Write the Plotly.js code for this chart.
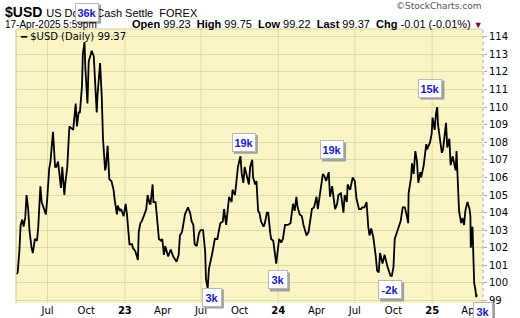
<!DOCTYPE html>
<html><head><meta charset="utf-8">
<script src="https://cdn.plot.ly/plotly-3.0.1.min.js"></script>
<style>html,body{margin:0;padding:0;background:#fff;}#chart{width:520px;height:318px;}</style>
</head><body><div id="chart"></div>
<script>
// ---- data ----
const dates = [
"2022-04-18","2022-04-21","2022-04-25","2022-04-28","2022-05-02","2022-05-05","2022-05-09","2022-05-12","2022-05-16","2022-05-19","2022-05-24","2022-05-27",
"2022-06-01","2022-06-06","2022-06-09","2022-06-14","2022-06-17","2022-06-22","2022-06-27","2022-06-30","2022-07-05","2022-07-08","2022-07-12","2022-07-14",
"2022-07-19","2022-07-22","2022-07-26","2022-08-02","2022-08-05","2022-08-10","2022-08-12","2022-08-17","2022-08-22","2022-08-26","2022-08-31","2022-09-06",
"2022-09-09","2022-09-13","2022-09-16","2022-09-21","2022-09-23","2022-09-27","2022-09-29","2022-10-04","2022-10-07","2022-10-12","2022-10-14","2022-10-19",
"2022-10-21","2022-10-26","2022-10-28","2022-11-03","2022-11-07","2022-11-10","2022-11-15","2022-11-17","2022-11-21","2022-11-25","2022-11-30","2022-12-05",
"2022-12-08","2022-12-13","2022-12-15","2022-12-20","2022-12-23","2022-12-29",
"2023-01-03","2023-01-06","2023-01-12","2023-01-18","2023-01-20","2023-01-26","2023-02-01","2023-02-03","2023-02-07","2023-02-10","2023-02-15","2023-02-21",
"2023-02-24","2023-03-01","2023-03-03","2023-03-08","2023-03-10","2023-03-15","2023-03-20","2023-03-23","2023-03-28","2023-03-31","2023-04-04","2023-04-07",
"2023-04-14","2023-04-20","2023-04-26","2023-05-04","2023-05-09","2023-05-12","2023-05-17","2023-05-24","2023-05-31","2023-06-05","2023-06-09","2023-06-13",
"2023-06-16","2023-06-21","2023-06-26","2023-06-30","2023-07-06","2023-07-11","2023-07-13","2023-07-17","2023-07-20","2023-07-25","2023-07-28","2023-08-03",
"2023-08-09","2023-08-16","2023-08-22","2023-08-25","2023-08-30","2023-09-06","2023-09-12","2023-09-14","2023-09-20","2023-09-27","2023-10-03","2023-10-06",
"2023-10-10","2023-10-13","2023-10-17","2023-10-23","2023-10-26","2023-10-31","2023-11-02","2023-11-07","2023-11-10","2023-11-14","2023-11-17","2023-11-21",
"2023-11-27","2023-11-30","2023-12-05","2023-12-08","2023-12-13","2023-12-15","2023-12-20","2023-12-27","2023-12-29",
"2024-01-03","2024-01-08","2024-01-12","2024-01-17","2024-01-19","2024-01-24","2024-01-30","2024-02-02","2024-02-05","2024-02-09","2024-02-13","2024-02-16",
"2024-02-21","2024-02-26","2024-03-01","2024-03-07","2024-03-08","2024-03-13","2024-03-19","2024-03-21","2024-03-26","2024-04-01","2024-04-04","2024-04-10",
"2024-04-16","2024-04-19","2024-04-24","2024-04-30","2024-05-03","2024-05-08","2024-05-15","2024-05-20","2024-05-23","2024-05-29","2024-06-04","2024-06-07",
"2024-06-12","2024-06-14","2024-06-20","2024-06-26","2024-07-01","2024-07-05","2024-07-11","2024-07-16","2024-07-19","2024-07-24","2024-07-29","2024-08-02",
"2024-08-05","2024-08-09","2024-08-14","2024-08-20","2024-08-23","2024-08-27","2024-08-30","2024-09-05","2024-09-10","2024-09-17","2024-09-24","2024-09-27",
"2024-10-01","2024-10-04","2024-10-10","2024-10-15","2024-10-18","2024-10-23","2024-10-28","2024-11-01","2024-11-05","2024-11-06","2024-11-12","2024-11-14",
"2024-11-18","2024-11-22","2024-11-26","2024-11-29","2024-12-04","2024-12-06","2024-12-12","2024-12-18","2024-12-20","2024-12-27","2024-12-31",
"2025-01-02","2025-01-07","2025-01-10","2025-01-13","2025-01-15","2025-01-20","2025-01-24","2025-01-27","2025-01-31","2025-02-03","2025-02-06","2025-02-11",
"2025-02-14","2025-02-19","2025-02-24","2025-02-26","2025-02-28","2025-03-04","2025-03-06","2025-03-11","2025-03-14","2025-03-18","2025-03-21","2025-03-26",
"2025-03-31","2025-04-02","2025-04-03","2025-04-07","2025-04-10","2025-04-11","2025-04-14","2025-04-16","2025-04-17"
];
const usd = [
100.5,100.6,101.8,103.3,103.6,103.2,103.7,105.0,104.2,103.0,102.0,101.7,
102.5,102.4,103.2,105.5,104.6,104.3,103.9,104.7,106.5,106.9,108.1,108.6,
106.6,106.6,106.9,105.4,106.6,105.0,105.6,106.6,108.9,108.8,108.7,110.2,
108.9,109.7,109.7,111.2,113.0,113.7,112.2,110.2,112.6,113.0,113.2,112.9,
111.9,109.7,110.7,112.5,110.6,108.2,106.4,106.6,107.8,105.9,105.8,105.3,
104.7,103.9,104.4,104.1,104.2,103.8,
104.5,103.9,102.2,102.2,102.0,101.8,101.3,102.9,103.4,103.5,103.8,104.2,
105.0,104.5,104.5,105.6,104.6,104.6,103.3,102.5,102.4,102.5,101.6,102.1,
101.5,101.9,101.5,101.2,101.6,102.7,102.9,103.9,104.3,104.0,103.5,103.3,
102.2,102.1,102.8,103.0,103.0,101.8,100.2,99.7,100.8,101.3,101.7,102.5,
102.5,103.4,103.5,104.2,103.3,104.9,104.6,105.3,105.0,106.6,107.2,106.2,
105.7,106.6,106.2,105.6,106.6,107.0,106.0,105.6,105.8,104.1,104.0,103.5,
103.2,103.4,104.0,104.0,102.8,102.5,102.4,101.1,101.5,
102.5,102.3,102.5,103.3,103.3,103.3,103.4,104.0,104.5,104.1,104.9,104.3,
103.9,103.8,103.3,102.8,102.7,102.9,103.8,104.2,104.3,104.9,104.2,105.2,
106.2,106.1,105.8,106.3,104.9,105.5,104.2,104.5,105.0,105.1,104.0,105.0,
104.6,105.6,105.3,106.0,105.8,104.8,104.2,104.2,104.3,104.3,104.6,103.2,
102.7,103.1,102.6,101.5,100.7,100.6,101.7,101.1,101.6,100.9,100.4,100.4,
100.9,102.5,102.9,103.2,103.5,104.3,104.3,103.9,103.4,105.1,106.0,106.8,
106.2,107.5,106.9,105.7,106.3,106.0,106.7,107.9,107.6,108.0,108.5,
109.4,108.7,109.6,110.0,109.0,108.0,107.4,107.6,108.4,109.1,107.7,108.2,
106.7,107.2,106.6,106.4,107.5,105.6,104.1,103.4,103.7,103.3,104.1,104.6,
104.2,103.8,102.0,103.2,100.8,100.0,99.6,99.2,99.37
];
const tickDates = ["2022-07-01","2022-10-01","2023-01-01","2023-04-01","2023-07-01","2023-10-01","2024-01-01","2024-04-01","2024-07-01","2024-10-01","2025-01-01","2025-04-01"];
const tickLabels = ["Jul","Oct","<b>23</b>","Apr","Jul","Oct","<b>24</b>","Apr","Jul","Oct","<b>25</b>","Apr"];
const gridDates = ["2022-07-01","2023-01-01","2023-07-01","2024-01-01","2024-07-01","2025-01-01"];
const noteText = ["36k","19k","3k","3k","19k","-2k","15k","3k"];
const noteDate = ["2022-10-03","2023-10-11","2023-07-27","2023-12-31","2024-05-08","2024-09-23","2024-12-28","2025-05-02"];
const noteY = [115.4,108.0,99.2,100.17,107.56,99.6,111.08,98.4];

// ---- layout helpers ----
const W = 520, H = 318, L = 16, R = 37, T = 29, B = 15;
const pw = W - L - R, ph = H - T - B;
const px = x => (x - L) / pw;
const py = y => 1 - (y - T) / ph;
const xr = ['2022-04-17','2025-05-02'], yr = [98.86,114.44];
const dx = d => (Date.parse(d) - Date.parse(xr[0])) / (Date.parse(xr[1]) - Date.parse(xr[0]));
const dy = v => (v - yr[0]) / (yr[1] - yr[0]);
const bg = '#F9F5C6', grid = '#E0DAA2';

const shapes = gridDates.map(d => ({type:'line', xref:'x', yref:'paper', x0:d, x1:d, y0:0, y1:1,
  line:{color:grid, width:1}, layer:'below'}));
shapes.push({type:'line', xref:'paper', yref:'paper', x0:0, x1:0, y0:0, y1:1, line:{color:'#C9C39A', width:1}});
shapes.push({type:'line', xref:'paper', yref:'paper', x0:0, x1:1, y0:1, y1:1, line:{color:'#D6D0A4', width:1}});
shapes.push({type:'line', xref:'paper', yref:'paper', x0:1, x1:1, y0:0, y1:1, line:{color:'#A8A8A8', width:1, dash:'dot'}});

const anns = [];
const F = 'Liberation Sans, Arial, sans-serif';
// title lines
anns.push({xref:'paper', yref:'paper', x:px(3), y:py(12), xanchor:'left', yanchor:'middle', showarrow:false,
  text:'<b>$USD</b> <span style="font-size:11px">US Dollar Cash Settle  FOREX</span>', font:{family:F, size:14, color:'#000'}});
anns.push({xref:'paper', yref:'paper', x:px(3), y:py(24), xanchor:'left', yanchor:'middle', showarrow:false,
  text:'17-Apr-2025 5:59pm', font:{family:F, size:10, color:'#000'}});
anns.push({xref:'paper', yref:'paper', x:px(485), y:py(24), xanchor:'right', yanchor:'middle', showarrow:false,
  text:'<b>Open</b> 99.23  <b>High</b> 99.75  <b>Low</b> 99.22  <b>Last</b> 99.37  <b>Chg</b> -0.01 (-0.01%) <span style="color:#7A0A30;font-size:9px">▼</span>',
  font:{family:F, size:11, color:'#000'}});
anns.push({xref:'paper', yref:'paper', x:px(483), y:py(6), xanchor:'right', yanchor:'middle', showarrow:false,
  text:'©StockCharts.com', font:{family:'DejaVu Sans, sans-serif', size:9, color:'#555'}});
// legend
anns.push({xref:'paper', yref:'paper', x:px(18), y:py(36), xanchor:'left', yanchor:'middle', showarrow:false,
  text:'<b>━</b> $USD (Daily) 99.37', font:{family:'DejaVu Sans, sans-serif', size:10, color:'#000'}});
// count boxes with drop shadow (shadow as pixel-sized shapes)
noteText.forEach((t, i) => {
  const tw = t.length >= 3 ? 18 : 14, th = 13, pad = 2;
  const bw = tw + 2*pad + 2, bh = th + 2*pad + 2;
  const ax = dx(noteDate[i]), ay = dy(noteY[i]);
  shapes.push({type:'rect', xref:'paper', yref:'paper', xsizemode:'pixel', ysizemode:'pixel', xanchor:ax, yanchor:ay,
    x0:-bw/2+2, x1:bw/2+2, y0:-bh/2-2, y1:bh/2-2, fillcolor:'#A0A0A0', line:{width:0}, layer:'above'});
  anns.push({xref:'paper', yref:'paper', x:ax, y:ay, xanchor:'center', yanchor:'middle', showarrow:false, text:'<b>'+t+'</b>',
    width:tw, height:th, font:{family:F, size:11, color:'#1A1AC8'}, bgcolor:'#FFFFFF', bordercolor:'#B8B8B8', borderwidth:1, borderpad:pad});
});

const trace = {x:dates, y:usd, type:'scatter', mode:'lines', line:{color:'#000', width:1.8}, hoverinfo:'skip'};

const layout = {
  width:W, height:H, margin:{l:L, r:R, t:T, b:B}, paper_bgcolor:'#fff', plot_bgcolor:bg, showlegend:false,
  xaxis:{type:'date', range:xr, tickvals:tickDates, ticktext:tickLabels, showgrid:false,
    zeroline:false, showline:false, ticks:'', tickfont:{family:'DejaVu Sans, sans-serif', size:10, color:'#000'}},
  yaxis:{side:'right', range:yr, dtick:1, tick0:100, showgrid:true, gridcolor:grid, gridwidth:1, zeroline:false,
    ticks:'outside', ticklen:3, tickcolor:'#A8A8A8', tickfont:{family:'DejaVu Sans, sans-serif', size:10, color:'#000'}},
  shapes:shapes, annotations:anns
};
Plotly.newPlot('chart', [trace], layout, {staticPlot:true, displayModeBar:false});
</script></body></html>
